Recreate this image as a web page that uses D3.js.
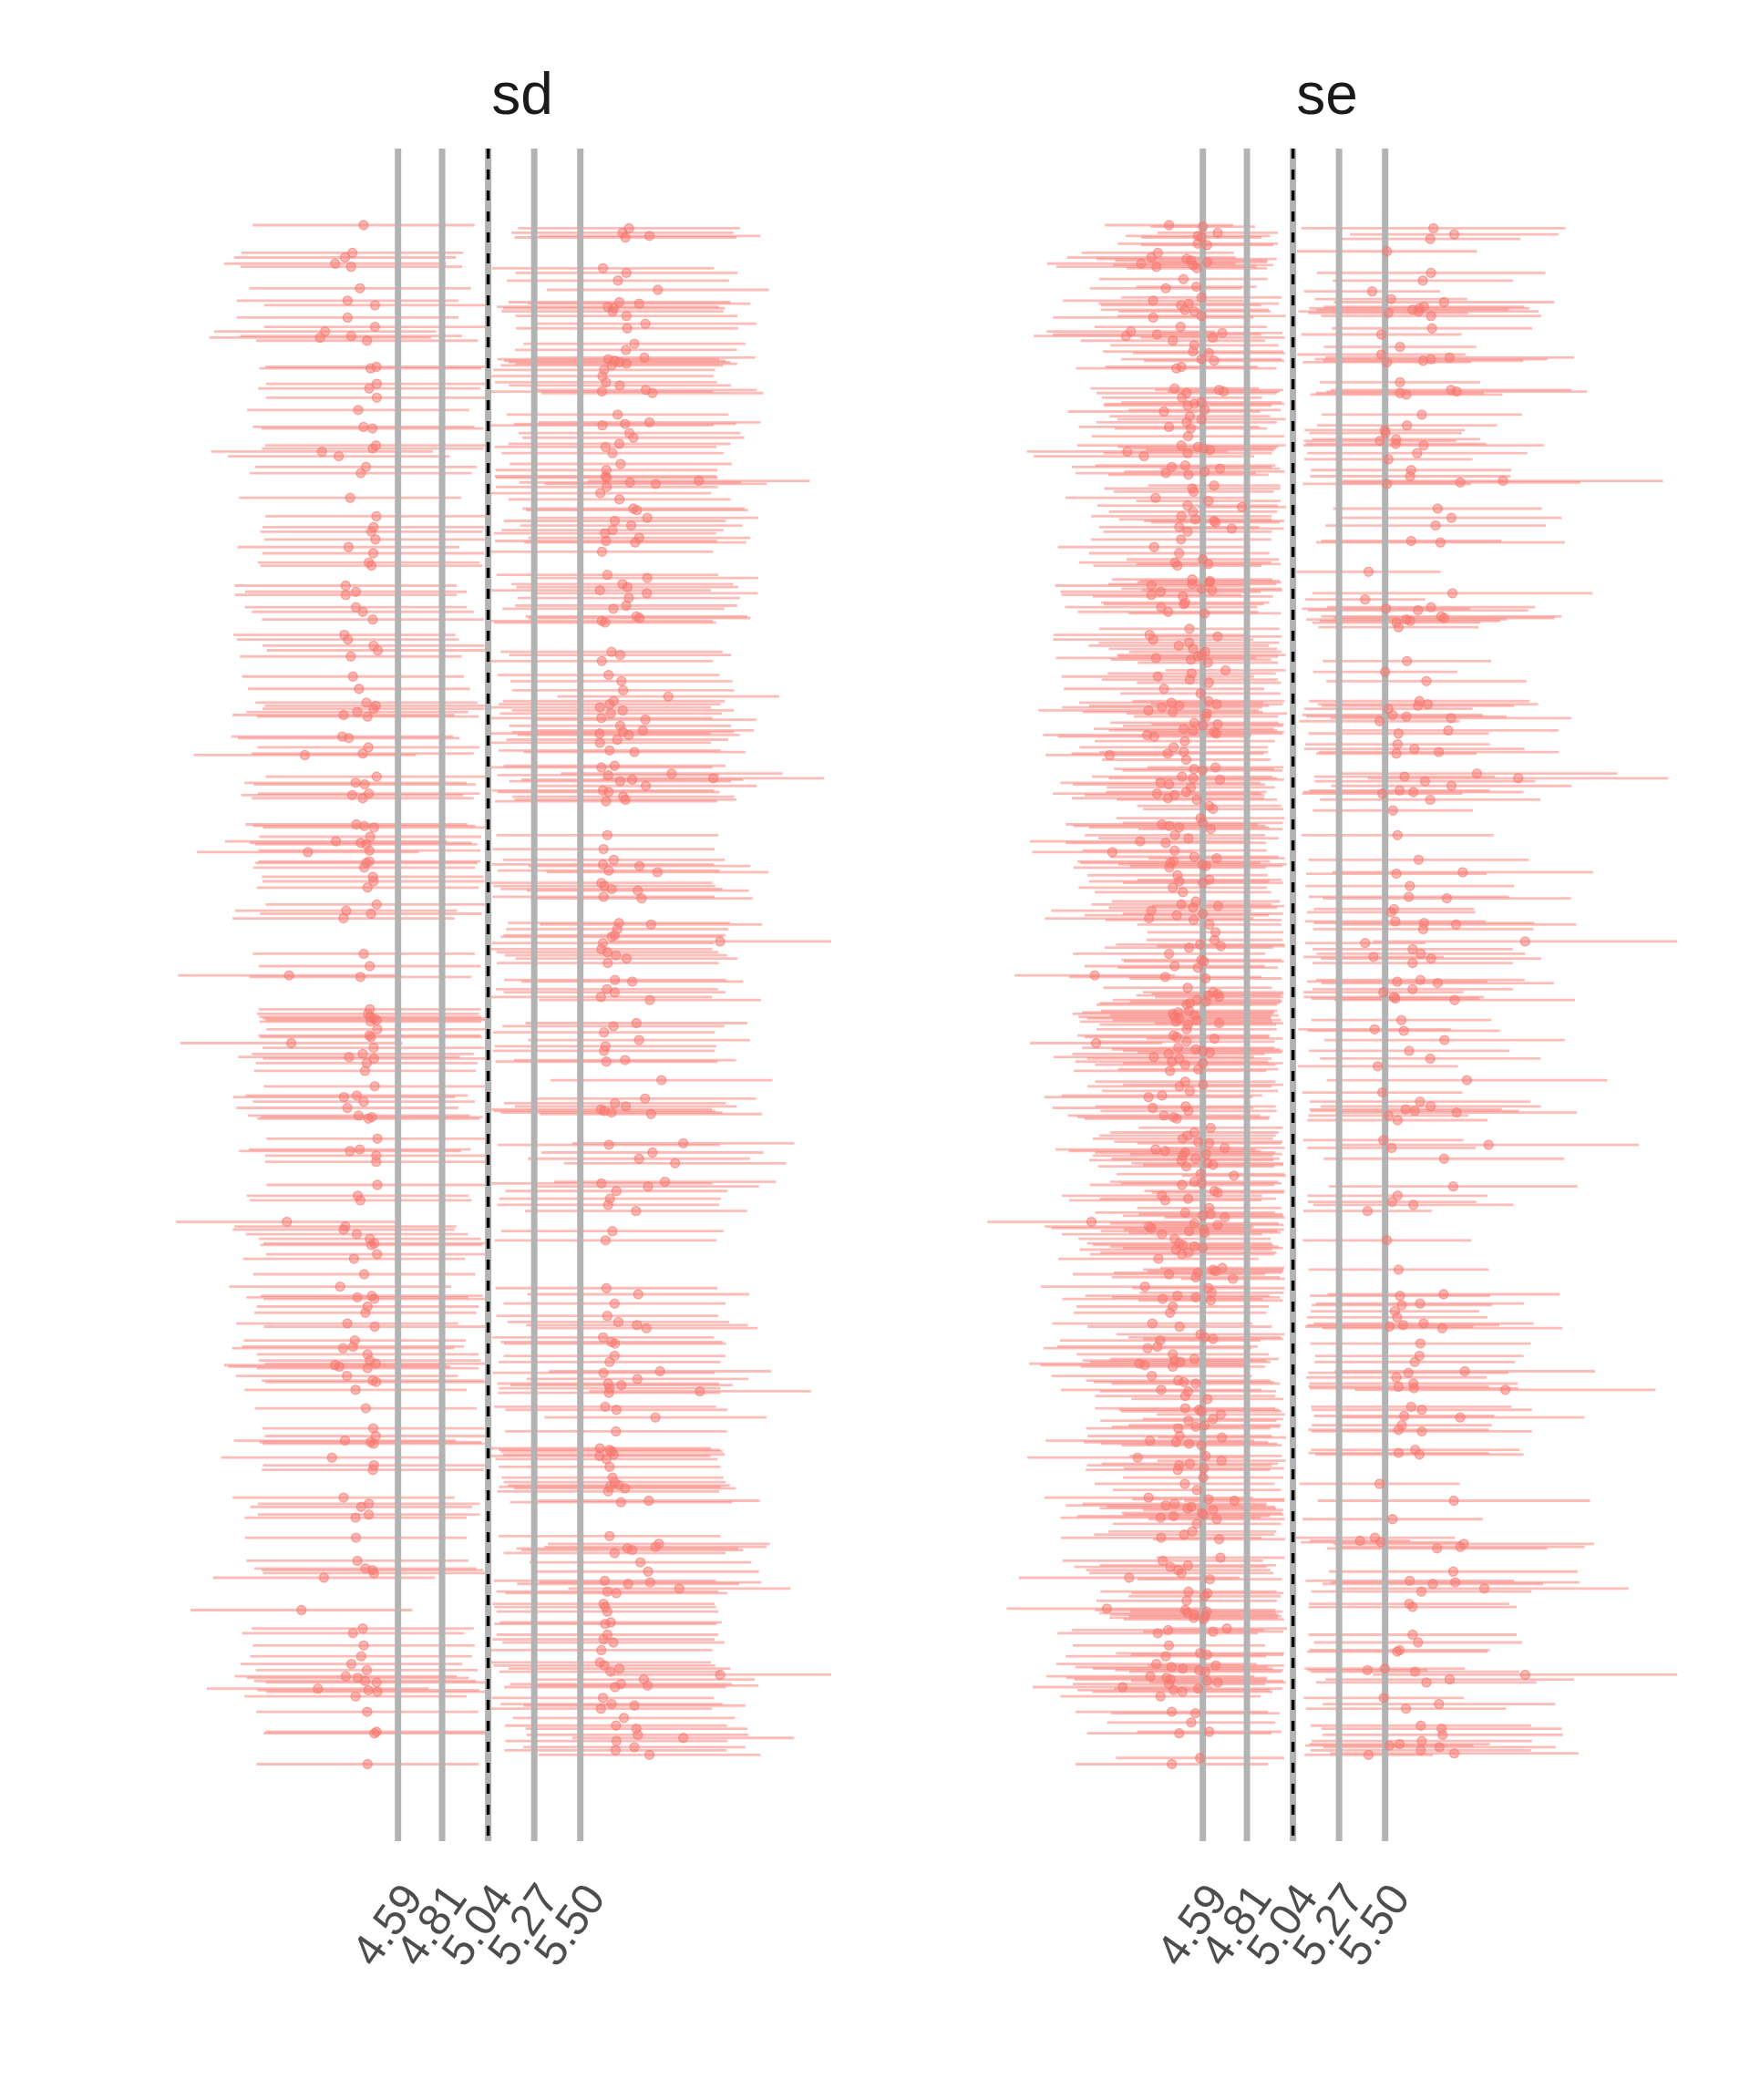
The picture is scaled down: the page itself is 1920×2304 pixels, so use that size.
<!DOCTYPE html>
<html><head><meta charset="utf-8">
<script src="https://cdn.jsdelivr.net/npm/d3@7"></script>
<style>body{margin:0;background:#fff}</style>
</head><body>
<svg id="chart" width="1920" height="2304"></svg>
<script>
const panels = ["sd", "se"];
const refLines = [4.59, 4.81, 5.04, 5.27, 5.50];
const tickLabels = ["4.59", "4.81", "5.04", "5.27", "5.50"];
const trueMean = 5.04;
const sdHalfWidth = 0.554;

const sdRow = [
1,3,6,8,9,19,22,26,28,29, 32,37,42,43,50,51,52,53,54,55, 57,60,61,65,67,68,70,73,74,76,
78,82,87,88,89,90,91,92,93,94, 95,99,103,104,105,107,108,109,110,113, 121,124,129,130,131,132,133,136,139,143,
144,145,146,148,149,151,156,158,160,162, 164,165,167,168,169,171,175,178,179,185, 186,190,191,193,196,197,199,200,201,204,
205,206,207,210,213,214,220,222,228,230, 234,235,236,238,239,240,241,243,248,249, 250,252,255,256,257,258,259,267,270,274,
277,278,280,281,284,293,294,297,302,303, 307,310,311,312,313,314,315,316,317,318, 319,320,321,322,326,329,330,331,332,333,
334,335,337,340,342,343,344,345,352,353, 357,358,359,360,361,362,363,364,365,368, 369,370,371,372,373,374,375,390,391,392,
397,398,401,402,403,406,407,408,413,414, 415,416,417,418,420,421,424,427,428,430, 431,432,433,437,438,442,446,448,451,454,
455,458,462,463,466,467,471,473,474,475, 477,480,482,488,489,491,492,497,499,502, 504,510,513,515,516,517,518,519,521,523,
525,527,528,530,532,534,535,537,539,541, 542,543,544,545,550,556,560,566,567,568, 570,571,573,574,575,576,577,578,579,580,
581,594,597,598,601,602,603,605,607,609, 610,622,623,624,625,628,631,633,634,637, 641,648,651,653,654,656,659,660,662,663,
669,672,682,690,691,695,696,697,698,701, 703,707,709,713,714,715,716,717,723,725, 726,727,729,730,734,735,738,739,740,741,
742,743,745,746,748,750,751,752,753,754, 756,757,758,759,768,769,770,775,782,784, 787,790,791,792,795,796,797,799,800,801,
802,806,807,809,814,817,819,820,821,823, 827,829,830,831,833,838,840,852,853,857, 859,860,861,863,868,869,873,874,875,876,
879,881,882,883,886,888,889,896,898,900, 901,908,909,912,915,916,919,921,923,926, 930,934,935,936,938,939,940,942,943,944,
945,946,947,948,949,950,951,952,953,956, 957,961,962,964,966,970,975,977,979,980, 981,983,985,989,991,994,1000];

const sdMean = [
4.418,5.743,5.71,5.845,5.725,4.362,4.325,4.276,4.356,5.613, 5.73,5.688,4.40,5.887,4.338,5.695,5.794,4.475,5.637,5.668, 5.661,5.73,4.338,5.825,4.475,5.734,4.226,4.356,4.201,4.435,
5.77,5.728,5.82,5.639,5.672,5.695,5.73,5.657,4.482,4.453, 5.619,5.61,5.628,4.484,5.697,4.446,5.827,5.608,5.86,4.484, 4.391,5.686,5.845,5.723,5.61,4.418,4.462,5.745,5.765,5.695,
4.48,5.626,4.464,4.21,5.661,4.294,5.701,4.43,5.63,4.404, 5.626,5.632,6.092,5.748,5.876,5.632,5.6,4.351,5.695,5.765, 5.783,4.482,5.834,5.672,5.754,4.468,5.661,4.457,5.623,5.794,
4.477,5.628,5.774,4.343,5.608,4.466,4.444,4.457,5.635,5.834, 5.71,4.329,5.735,5.598,4.38,5.832,4.329,5.742,5.729,4.38, 5.665,4.414,5.78,5.795,4.464,5.607,5.624,4.322,4.34,4.468,
4.489,5.656,5.699,4.354,5.607,5.641,4.365,5.705,4.395,5.714, 5.939,5.667,4.432,5.646,4.479,5.598,4.468,5.712,4.387,5.652, 4.318,4.438,5.605,5.825,5.699,5.812,5.712,5.596,5.742,4.312,
4.344,5.684,5.598,4.442,5.646,5.77,4.414,4.125,5.671,5.605, 5.956,5.639,4.483,6.164,5.759,5.699,4.378,4.423,5.827,5.613, 5.641,4.444,4.361,5.714,4.414,5.725,5.628,4.382,4.421,4.47,
5.635,4.451,4.28,4.404,4.432,5.616,4.447,4.14,5.667,4.447, 4.432,5.613,5.795,4.421,5.641,5.885,4.464,4.468,5.605,5.62, 4.438,5.656,5.787,5.616,5.806,4.483,4.331,4.455,4.318,5.693,
5.853,5.684,5.671,5.656,6.198,5.613,5.605,5.635,4.419,5.678, 5.731,5.637,4.449,4.046,4.402,5.673,5.759,5.633,5.671,5.603, 5.847,4.449,4.44,4.451,4.47,4.483,4.453,5.78,5.665,4.487,
5.618,4.447,4.455,5.793,4.057,5.626,4.468,5.618,4.414,4.346, 4.47,5.723,5.63,4.434,4.425,5.905,4.474,4.384,4.32,5.823, 4.419,5.673,5.727,4.337,5.603,5.62,5.656,5.853,4.393,4.459,
4.442,4.487,6.014,5.643,4.399,4.35,5.86,4.481,5.793,4.481, 5.973,5.922,5.605,4.487,5.838,5.68,4.389,5.648,4.402,5.639, 5.778,4.035,4.327,4.318,5.66,4.384,4.449,5.626,4.472,4.457,
4.485,4.37,4.421,4.301,5.63,5.789,4.459,4.387,4.472,5.671, 4.438,4.427,5.635,5.69,4.337,5.783,4.474,5.83,5.613,4.374, 5.656,5.673,4.365,4.316,4.438,5.671,4.449,5.646,4.479,4.275,
4.297,4.438,5.898,5.616,4.335,5.785,4.464,4.481,5.639,5.705, 5.646,4.378,6.097,5.643,5.624,4.429,5.68,5.875,4.466,5.678, 4.479,4.325,4.453,4.468,5.598,5.646,5.656,5.667,5.596,4.26,
5.63,4.47,5.646,4.464,5.661,5.671,5.693,5.648,5.723,5.639, 4.318,5.842,5.703,4.444,4.406,4.444,4.378,5.646,4.38,5.892, 5.875,5.735,5.759,5.671,4.387,5.8,4.427,4.462,5.838,4.47,
4.22,5.622,5.849,5.738,5.994,5.635,5.68,5.616,5.624,4.108, 5.635,5.652,5.624,4.414,4.365,5.635,5.616,5.665,4.419,5.605, 4.406,5.598,4.357,5.62,5.695,4.434,5.65,6.198,4.329,4.389,
5.817,4.425,4.483,5.703,5.836,5.673,4.19,4.442,4.487,4.378, 5.613,5.656,5.77,5.603,4.436,5.718,5.678,5.78,4.483,4.472, 5.787,6.014,5.68,5.77,5.676,5.845,4.438];

const seRow = [
1,2,3,6,7,8,9,10,13,14, 18,19,22,23,24,25,26,27,28,29, 32,36,37,41,42,44,48,49,50,51,
52,53,54,55,56,57,58,56,57,60, 61,60,67,68,70,71,72,72,73,74, 76,79,80,83,84,85,87,88,88,89,
89,90,93,94,103,107,108,108,109,109, 110,110,111,113,116,117,118,121,122,124, 125,127,129,131,132,133,134,136,138,140,
141,143,144,144,145,146,147,148,149,149, 151,153,157,158,159,160,161,162,163,164, 167,168,169,170,172,174,178,180,183,184,
185,187,190,191,192,193,194,196,197,198, 200,205,206,207,210,214,218,220,221,222, 226,231,232,233,234,235,237,238,239,240,
241,242,244,246,247,249,249,250,251,252, 253,255,256,257,258,259,262,263,267,268, 270,272,274,276,278,281,280,282,283,284,
285,290,291,292,294,296,297,298,302,305, 310,310,311,312,312,313,313,314,315,316, 317,318,319,320,320,321,323,324,325,326,
328,329,329,330,331,331,332,333,336,338, 340,341,343,343,344,344,345,348,353,354, 355,357,359,359,360,360,361,362,363,364,
365,366,368,369,369,370,370,371,373,374, 374,378,380,381,386,389,390,391,392,393, 397,397,399,401,402,407,408,411,412,413,
414,415,416,417,418,421,422,423,426,427, 428,430,431,434,437,438,440,442,443,444, 445,446,447,448,449,451,452,453,454,455,
455,458,460,465,466,467,468,469,470,471, 474,474,476,477,478,479,480,482,483,488, 489,490,491,492,493,496,497,499,499,500,
501,502,502,503,504,504,505,506,507,512, 513,514,511,515,516,517,517,518,519,520, 523,523,524,527,528,529,530,531,532,535,
536,537,538,537,539,541,542,542,544,545, 546,547,549,550,556,557,559,560,563,564, 566,567,570,573,573,574,575,576,576,577,
579,579,580,581,582,587,590,592,594,595, 596,597,598,600,600,601,602,603,604,605, 607,607,608,610,611,612,617,618,622,623,
624,625,628,629,631,631,633,634,635,637, 639,641,642,643,644,645,648,649,650,651, 652,653,654,655,656,659,660,662,663,664,
665,666,668,669,672,679,679,680,678,681, 682,684,685,690,691,695,696,696,697,694, 698,699,701,702,703,706,707,710,714,714,
715,716,716,717,721,723,724,725,727,729, 730,734,735,738,739,737,739,740,741,742, 745,746,748,749,751,752,753,753,755,756,
757,757,758,761,763,768,769,770,771,770, 773,774,775,776,777,780,780,781,782,783, 784,787,788,790,791,792,793,796,798,799,
800,801,803,805,806,808,809,814,818,818, 822,827,828,829,829,831,832,833,834,835, 837,838,839,840,841,841,844,849,851,853,
853,854,855,856,857,859,860,866,868,871, 872,874,875,876,879,880,881,882,883,886, 888,888,889,891,894,896,898,899,900,901,
902,903,904,905,906,912,913,914,915,916, 921,923,926,927,928,929,930,935,937,938, 936,938,939,939,940,940,942,943,944,945,
945,946,947,947,948,950,951,952,953,956, 957,961,964,966,967,973,975,977,979,980, 981,985,987,988,989,991,993,994,996,1000];

const seMean = [
4.421,4.59,5.741,4.664,5.845,4.565,4.583,5.725,4.565,4.611, 5.509,4.365,4.333,4.509,4.532,4.611,4.282,4.541,4.358,4.56, 5.729,4.493,5.688,4.558,4.405,5.435,4.583,5.53,4.342,5.794,
4.52,4.481,5.694,5.671,5.637,5.667,5.516,4.5,4.548,4.583, 4.342,5.729,4.479,5.734,4.231,4.687,4.361,5.481,4.206,4.639, 4.44,4.548,5.574,4.541,4.62,5.481,5.822,4.583,5.729,4.646,
5.69,5.509,4.483,4.458,5.574,4.449,4.671,5.829,4.694,5.857, 4.509,5.574,5.606,4.486,4.583,4.548,4.514,4.599,4.396,5.683, 4.525,4.583,4.509,5.609,4.421,4.53,5.498,5.502,4.516,5.555,
5.474,5.553,4.483,5.692,4.565,4.595,4.625,4.213,4.514,5.66, 4.296,5.516,4.502,4.435,4.676,5.63,4.599,4.405,4.518,5.625, 6.088,5.875,5.509,4.646,4.537,4.544,4.354,4.618,4.514,4.785,
5.762,4.541,4.483,5.831,4.553,4.646,4.653,5.752,4.472,4.734, 4.514,4.481,5.63,5.776,4.347,4.472,4.59,4.451,4.618,4.463, 5.417,4.537,4.625,4.622,4.537,4.333,4.583,4.636,4.379,5.836,
4.333,4.49,5.40,4.502,4.495,4.382,5.729,5.505,5.664,4.416, 4.599,5.78,5.794,5.606,5.625,5.556,5.567,4.523,4.324,4.664, 4.342,4.521,4.47,4.541,4.602,4.565,4.583,4.356,4.53,5.609,
4.615,4.703,5.50,4.534,4.365,4.525,5.706,4.62,4.396,4.578, 4.618,5.671,4.433,4.659,5.713,4.472,5.664,4.386,5.516,4.319, 4.44,4.609,5.537,4.606,5.606,5.829,5.472,4.548,4.664,4.59,
4.495,4.541,5.815,4.646,4.657,5.567,4.312,4.347,4.5,5.562, 4.444,5.646,4.495,5.768,4.414,5.556,4.125,4.507,4.653,4.546, 4.588,5.958,5.597,4.486,4.541,6.164,4.676,5.699,4.379,4.421,
5.831,4.53,5.572,4.507,5.641,4.361,5.486,4.449,4.416,4.56, 5.725,4.622,4.641,5.539,4.578,4.59,4.386,4.423,4.472,4.629, 4.451,5.562,4.518,4.277,4.405,4.449,4.138,4.548,4.659,5.667,
4.444,4.428,4.588,4.606,4.423,5.887,5.556,4.463,4.622,4.472, 4.59,5.623,4.44,4.49,5.618,5.808,4.555,4.483,4.666,4.541, 5.544,4.333,5.53,4.59,4.46,4.321,4.544,5.551,5.694,4.622,
5.854,5.69,4.653,4.648,6.199,5.40,4.576,4.68,4.521,5.637, 4.421,5.678,5.442,5.729,4.583,4.595,5.637,4.449,4.565,4.05, 4.402,4.604,5.676,5.56,5.762,4.514,5.637,4.641,5.491,4.664,
4.618,4.671,5.544,5.551,4.56,5.847,4.606,4.525,4.509,4.467, 4.44,4.548,4.521,4.449,4.472,4.56,5.581,4.456,4.671,4.516, 4.509,5.447,5.593,4.444,4.46,4.648,5.796,4.509,4.057,4.467,
4.555,4.59,4.625,5.62,4.419,4.345,4.472,5.725,4.435,4.59, 4.502,5.463,4.567,4.426,5.908,4.502,4.592,4.474,4.525,5.486, 4.386,4.319,5.674,4.504,5.727,4.34,5.602,4.518,5.648,5.857,
4.396,5.516,4.444,4.46,5.562,4.629,4.548,4.514,4.49,5.491, 4.567,4.622,6.016,4.699,5.532,4.354,4.40,4.502,4.606,4.49, 4.553,5.794,4.483,4.613,4.641,4.507,4.578,4.745,4.548,4.583,
4.486,5.84,4.648,4.664,4.386,5.562,4.516,4.402,5.535,5.641, 4.622,5.412,4.502,4.629,4.59,4.699,4.034,4.548,4.664,4.321, 4.333,4.595,4.521,4.599,4.386,4.449,5.509,4.472,4.49,4.548,
4.59,4.456,4.518,4.486,4.368,4.641,5.567,4.653,4.687,4.565, 4.421,4.555,4.74,4.301,4.618,5.792,4.463,5.574,4.555,4.634, 4.389,4.629,5.674,5.583,4.44,5.549,4.426,5.56,4.338,5.692,
5.59,4.474,5.521,5.785,4.578,4.599,4.641,4.377,5.676,4.363, 4.314,4.44,5.671,4.449,4.477,4.548,5.648,4.273,4.30,4.44, 5.898,5.616,4.335,5.556,4.467,4.495,4.555,5.641,5.567,5.644,
4.382,6.10,4.516,4.502,4.613,5.63,4.502,4.571,4.583,5.683, 4.68,5.595,5.875,4.641,4.518,4.599,5.583,4.555,4.467,5.567, 5.683,4.474,4.685,4.326,4.456,4.521,4.583,5.65,5.567,5.671,
4.604,4.264,4.683,4.525,4.472,4.595,4.465,4.592,4.50,5.472, 4.56,4.319,4.618,4.747,5.843,4.449,4.405,4.532,4.514,4.641, 4.585,4.594,4.444,4.379,4.659,5.537,4.56,4.537,4.497,4.382,
5.449,4.671,5.375,5.479,5.893,5.875,5.759,4.678,4.39,4.516, 4.428,4.467,5.84,4.483,4.222,4.625,5.623,5.85,5.738,5.995, 4.518,5.681,4.613,4.599,4.509,5.62,5.637,4.111,4.502,4.609,
4.514,4.548,4.602,4.544,4.595,4.71,4.416,4.641,4.365,5.637, 5.664,4.421,5.572,5.56,4.576,4.611,4.405,4.358,4.433,4.49, 4.655,5.498,4.571,5.412,4.602,5.65,6.199,4.328,4.409,4.428,
5.822,4.611,4.664,5.706,4.421,4.19,4.567,4.444,4.488,4.379, 5.493,5.769,5.604,4.435,4.553,4.532,5.678,5.782,4.622,4.472, 5.787,5.683,5.572,5.521,5.771,5.678,5.845,5.417,4.576,4.435];

const seHalf = [
.32,.26,.66,.30,.52,.36,.30,.45,.40,.33, .45,.38,.42,.45,.38,.30,.47,.40,.50,.35, .57,.42,.45,.30,.38,.34,.40,.38,.45,.55,
.45,.40,.50,.55,.48,.60,.40,.42,.38,.42, .50,.55,.43,.50,.42,.30,.52,.40,.46,.36, .46,.42,.38,.45,.38,.42,.62,.40,.58,.35,
.50,.42,.38,.50,.40,.42,.32,.60,.28,.65, .45,.42,.48,.40,.40,.45,.42,.38,.48,.50, .40,.42,.45,.45,.45,.38,.40,.38,.48,.42,
.38,.45,.52,.60,.40,.36,.32,.50,.42,.55, .55,.42,.45,.50,.30,.50,.40,.45,.40,.50, .80,.60,.42,.33,.44,.40,.45,.36,.45,.22,
.52,.42,.45,.55,.38,.35,.32,.55,.40,.26, .42,.45,.45,.62,.48,.45,.38,.48,.36,.42, .36,.40,.35,.36,.42,.48,.40,.35,.50,.70,
.45,.45,.30,.42,.40,.48,.52,.42,.55,.45, .38,.60,.55,.50,.45,.42,.40,.45,.48,.32, .50,.45,.45,.42,.38,.40,.42,.50,.40,.42,
.35,.30,.36,.42,.48,.44,.50,.36,.50,.40, .38,.55,.46,.33,.55,.45,.48,.50,.42,.55, .45,.40,.45,.36,.50,.60,.40,.42,.33,.40,
.45,.42,.55,.35,.33,.45,.52,.48,.45,.46, .47,.55,.42,.60,.48,.40,.32,.42,.34,.40, .40,.70,.45,.45,.42,.75,.32,.55,.50,.48,
.60,.42,.45,.40,.55,.52,.40,.45,.48,.40, .55,.36,.35,.40,.42,.40,.48,.48,.45,.36, .45,.48,.45,.55,.50,.46,.40,.42,.34,.55,
.48,.45,.42,.38,.48,.65,.45,.45,.36,.45, .40,.52,.47,.44,.50,.62,.42,.45,.33,.42, .40,.50,.42,.40,.46,.52,.44,.45,.55,.36,
.60,.55,.34,.34,.76,.30,.42,.32,.42,.50, .48,.52,.35,.55,.40,.40,.50,.45,.40,.40, .48,.38,.52,.45,.58,.42,.50,.35,.40,.33,
.36,.32,.45,.42,.42,.60,.38,.45,.45,.48, .50,.42,.44,.48,.46,.42,.45,.48,.32,.44, .45,.38,.48,.48,.46,.34,.60,.44,.33,.48,
.42,.40,.36,.50,.48,.50,.46,.55,.48,.40, .45,.40,.40,.48,.70,.45,.40,.46,.44,.40, .50,.52,.55,.45,.55,.50,.48,.44,.52,.60,
.48,.40,.48,.46,.45,.36,.42,.44,.45,.40, .42,.36,.75,.30,.42,.50,.48,.45,.38,.45, .42,.60,.46,.38,.35,.44,.42,.26,.42,.40,
.46,.62,.35,.33,.50,.45,.44,.48,.42,.50, .36,.32,.45,.36,.40,.30,.52,.42,.33,.52, .50,.40,.44,.38,.50,.48,.42,.46,.45,.42,
.40,.48,.44,.46,.50,.35,.45,.34,.31,.42, .48,.42,.26,.52,.38,.58,.46,.45,.42,.36, .50,.36,.52,.45,.48,.42,.48,.45,.50,.55,
.48,.46,.42,.60,.42,.38,.35,.50,.55,.50, .52,.48,.52,.46,.45,.42,.50,.55,.52,.46, .65,.50,.50,.45,.46,.45,.42,.52,.45,.52,
.50,.75,.44,.45,.38,.50,.45,.40,.40,.55, .32,.45,.62,.35,.44,.38,.45,.42,.46,.45, .55,.46,.32,.52,.46,.44,.40,.52,.45,.52,
.38,.55,.32,.44,.46,.40,.46,.40,.45,.40, .42,.52,.38,.25,.68,.46,.50,.42,.44,.35, .40,.40,.48,.50,.34,.45,.42,.42,.45,.50,
.40,.33,.25,.40,.65,.62,.55,.32,.50,.44, .48,.46,.62,.46,.55,.36,.52,.62,.55,.72, .44,.55,.38,.38,.45,.50,.52,.50,.45,.38,
.44,.42,.38,.42,.40,.30,.48,.35,.50,.52, .52,.48,.45,.45,.42,.38,.50,.50,.48,.45, .34,.40,.42,.30,.38,.52,.76,.52,.50,.48,
.62,.38,.34,.55,.48,.45,.42,.48,.45,.50, .40,.58,.50,.48,.42,.42,.55,.60,.36,.46, .60,.55,.45,.42,.58,.55,.62,.32,.42,.48];

// ---- build per-panel tables from the arrays ----
const panelData = {
  sd: sdRow.map((r, i) => ({row: r, mean: sdMean[i], lo: sdMean[i] - sdHalfWidth, hi: sdMean[i] + sdHalfWidth})),
  se: seRow.map((r, i) => ({row: r, mean: seMean[i], lo: seMean[i] - seHalf[i], hi: seMean[i] + seHalf[i]}))
};

const svg = d3.select("#chart");
svg.append("rect").attr("width", 1920).attr("height", 2304).attr("fill", "#fff");

const panelTop = 163, panelBottom = 2020;
const panelShift = 883;
const red = "#F8766D";
const font = "'Liberation Sans', Arial, Helvetica, sans-serif";
const y = d3.scaleLinear().domain([1, 1000]).range([247, 1935.5]);

panels.forEach((name, pi) => {
  const dx = pi * panelShift;
  const x = d3.scaleLinear().domain([4.59, 5.50]).range([436.7 + dx, 636.7 + dx]);
  const g = svg.append("g");
  const data = panelData[name];

  // error bars
  g.append("g").selectAll("line").data(data).join("line")
    .attr("x1", d => x(d.lo)).attr("x2", d => x(d.hi))
    .attr("y1", d => y(d.row)).attr("y2", d => y(d.row))
    .attr("stroke", red).attr("stroke-opacity", 0.48).attr("stroke-width", 2.8);

  // reference lines
  g.append("g").selectAll("line").data(refLines).join("line")
    .attr("x1", d => x(d)).attr("x2", d => x(d))
    .attr("y1", panelTop).attr("y2", panelBottom)
    .attr("stroke", "#B3B3B3").attr("stroke-width", 7);
  g.append("line")
    .attr("x1", x(trueMean)).attr("x2", x(trueMean))
    .attr("y1", panelTop).attr("y2", panelBottom)
    .attr("stroke", "#000").attr("stroke-width", 3.5)
    .attr("stroke-dasharray", "11,12");

  // points
  g.append("g").selectAll("circle").data(data).join("circle")
    .attr("cx", d => x(d.mean)).attr("cy", d => y(d.row)).attr("r", 5)
    .attr("fill", red).attr("fill-opacity", 0.5)
    .attr("stroke", red).attr("stroke-opacity", 0.6).attr("stroke-width", 1.3);

  // facet title
  g.append("text")
    .attr("x", x(5.21)).attr("y", 125)
    .attr("text-anchor", "middle")
    .attr("font-family", font)
    .attr("font-size", 64).attr("fill", "#1A1A1A")
    .text(name);

  // tick labels
  const tg = g.append("g");
  refLines.forEach((v, i) => {
    tg.append("text")
      .attr("transform", `translate(${x(v)},2062) rotate(-55)`)
      .attr("text-anchor", "end")
      .attr("dy", "0.72em")
      .attr("font-family", font)
      .attr("font-size", 49).attr("fill", "#4D4D4D")
      .text(tickLabels[i]);
  });
});
</script>
</body></html>
